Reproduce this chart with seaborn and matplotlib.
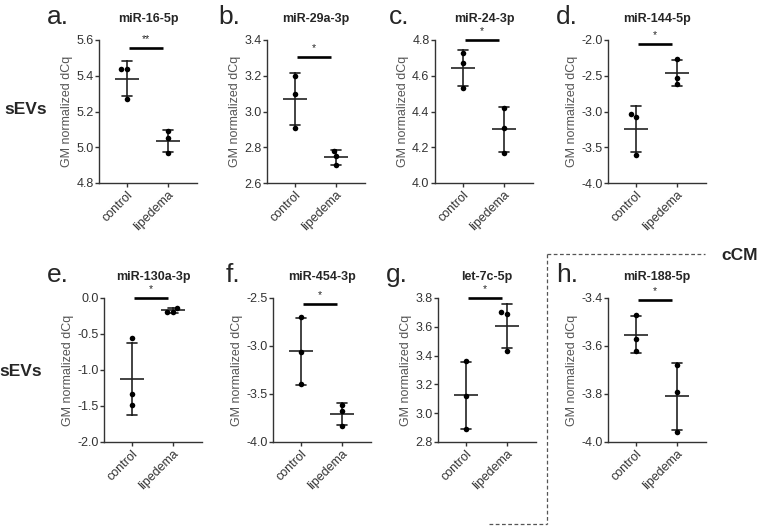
import numpy as np
import pandas as pd
import matplotlib
matplotlib.use("Agg")
import matplotlib.pyplot as plt
from matplotlib.lines import Line2D
import seaborn as sns

## data (GM normalized dCq, 3 donors per group)
groups = ["control", "lipedema"]
titles = ["miR-16-5p", "miR-29a-3p", "miR-24-3p", "miR-144-5p",
          "miR-130a-3p", "miR-454-3p", "let-7c-5p", "miR-188-5p"]
letters = ["a.", "b.", "c.", "d.", "e.", "f.", "g.", "h."]
control = [[5.44, 5.44, 5.27],
           [3.20, 3.10, 2.91],
           [4.73, 4.67, 4.53],
           [-3.07, -3.04, -3.61],
           [-0.56, -1.34, -1.49],
           [-2.70, -3.06, -3.40],
           [3.36, 3.12, 2.89],
           [-3.47, -3.57, -3.62]]
lipedema = [[5.09, 5.05, 4.97],
            [2.78, 2.75, 2.70],
            [4.42, 4.31, 4.17],
            [-2.26, -2.53, -2.61],
            [-0.14, -0.19, -0.19],
            [-3.61, -3.68, -3.83],
            [3.69, 3.70, 3.43],
            [-3.68, -3.79, -3.96]]
y_ranges = [(4.8, 5.6, 0.2), (2.6, 3.4, 0.2), (4.0, 4.8, 0.2), (-4.0, -2.0, 0.5),
            (-2.0, 0.0, 0.5), (-4.0, -2.5, 0.5), (2.8, 3.8, 0.2), (-4.0, -3.4, 0.2)]
sig_labels = ["**", "*", "*", "*", "*", "*", "*", "*"]
sig_heights = [5.555, 3.305, 4.80, -2.06, 0.0, -2.56, 3.80, -3.41]

sns.set_style("ticks")
plt.rcParams["font.family"] = ["Liberation Sans", "DejaVu Sans"]

W, H = 758, 527
fig = plt.figure(figsize=(W / 100, H / 100), dpi=100)

## layout in pixels: (spine x, axis top y, axis bottom y)
lefts = [99, 267, 435, 608, 104, 273, 438, 608]
tops = [40, 40, 40, 40, 298, 298, 298, 298]
bottoms = [183, 183, 183, 183, 442, 442, 442, 442]
letter_x = [47, 218, 389, 556, 47, 226, 386, 556]
ax_w = 98
spacing = 41.0
first_off = 28.0

for i in range(8):
    l, t, b = lefts[i], tops[i], bottoms[i]
    ax = fig.add_axes([l / W, 1 - b / H, ax_w / W, (b - t) / H])
    df = pd.DataFrame({"group": ["control"] * 3 + ["lipedema"] * 3,
                       "value": control[i] + lipedema[i]})
    sns.swarmplot(data=df, x="group", y="value", order=groups, color="black",
                  size=4, ax=ax, zorder=3)
    sns.pointplot(data=df, x="group", y="value", order=groups, errorbar="sd",
                  capsize=0.22, color="#222222", marker="_", markersize=17,
                  markeredgewidth=1.2, linestyle="none",
                  err_kws={"linewidth": 1.2}, ax=ax)
    lo, hi, step = y_ranges[i]
    ax.set_ylim(lo, hi)
    ax.set_yticks(np.arange(lo, hi + step / 2, step))
    ax.yaxis.set_major_formatter(matplotlib.ticker.FormatStrFormatter("%.1f"))
    ax.set_xlim(-first_off / spacing, (ax_w - first_off) / spacing)
    sns.despine(ax=ax)
    for s in ["left", "bottom"]:
        ax.spines[s].set_color("#333333")
        ax.spines[s].set_linewidth(1.0)
    ax.tick_params(length=3, width=1, colors="#333333", labelsize=9, pad=1)
    ax.set_xticks([0, 1])
    ax.set_xticklabels(groups, rotation=45, ha="right", rotation_mode="anchor",
                       color="#333333")
    ax.set_xlabel("")
    ax.set_ylabel("GM normalized dCq", fontsize=9, color="#555555", labelpad=2)

    ## significance bar
    ax.plot([0.05, 0.88], [sig_heights[i]] * 2, color="black", lw=1.9,
            clip_on=False, solid_capstyle="butt")
    ax.annotate(sig_labels[i], xy=(0.465, sig_heights[i]), xytext=(0, 3),
                textcoords="offset points", ha="center", va="bottom",
                fontsize=7.5, annotation_clip=False)

    base = 22 if i < 4 else 280
    fig.text((l + ax_w / 2) / W, 1 - base / H, titles[i], ha="center",
             va="baseline", fontsize=9, fontweight="bold")
    fig.text(letter_x[i] / W, 1 - (base + 2) / H, letters[i], ha="left",
             va="baseline", fontsize=19)

## row labels
fig.text(26 / W, 1 - 110 / H, "sEVs", ha="center", va="center",
         fontsize=12.5, fontweight="bold")
fig.text(21 / W, 1 - 372 / H, "sEVs", ha="center", va="center",
         fontsize=12.5, fontweight="bold")
fig.text(740 / W, 1 - 255 / H, "cCM", ha="center", va="center",
         fontsize=12.5, fontweight="bold")

## dashed frame around panel h
fx = lambda x: x / W
fy = lambda y: 1 - y / H
dash = dict(color="#555555", lw=0.9, linestyle=(0, (3, 2)))
fig.add_artist(Line2D([fx(547), fx(705)], [fy(254), fy(254)], **dash))
fig.add_artist(Line2D([fx(547), fx(547)], [fy(254), fy(524)], **dash))
fig.add_artist(Line2D([fx(489), fx(547)], [fy(524), fy(524)], **dash))

fig.savefig("out.png", dpi=100)
